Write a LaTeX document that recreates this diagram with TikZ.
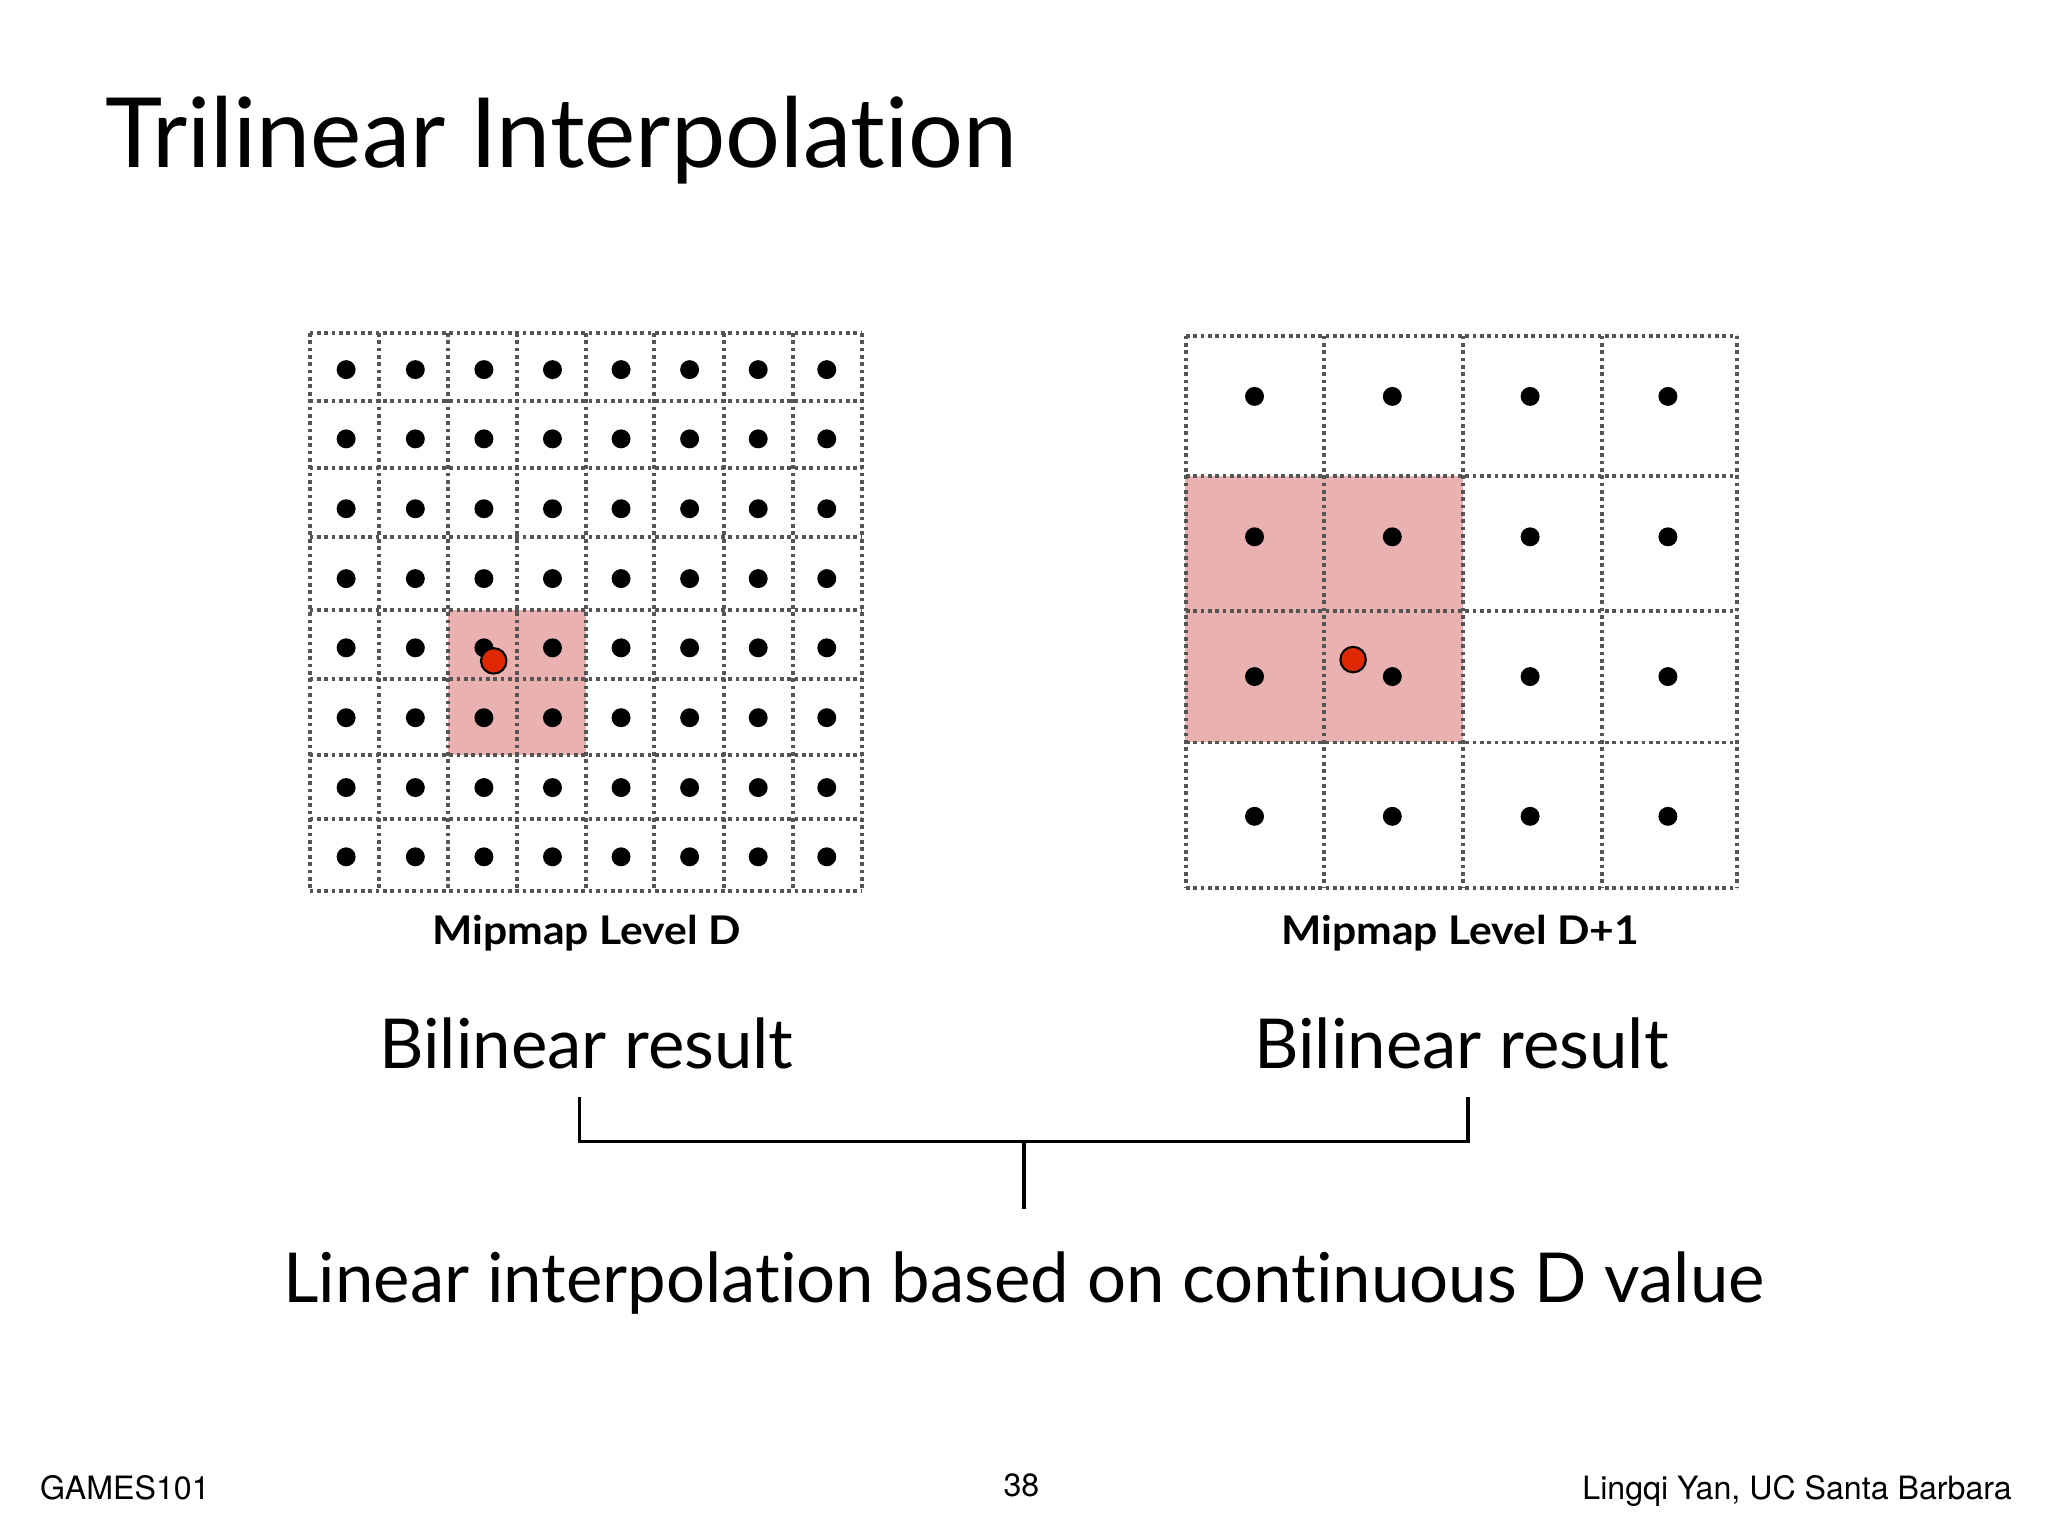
\documentclass[tikz,border=0pt]{standalone}
\usepackage{fontspec}
\setmainfont{Lato}[Ligatures={NoCommon}]
\newfontfamily\footfont{TeX Gyre Heros}
\definecolor{gridgray}{RGB}{85,85,85}
\definecolor{hlpink}{RGB}{233,177,175}
\definecolor{qred}{RGB}{224,40,0}
\begin{document}
\begin{tikzpicture}[x=0.01cm,y=-0.01cm,
  gridline/.style={draw=gridgray, line width=0.85pt, dash pattern=on 0.8pt off 0.8pt},
  hlbox/.style={fill=hlpink, draw=none},
  sample/.style={circle, fill=black, draw=none, inner sep=0pt, minimum size=0.145cm},
  query/.style={circle, fill=qred, draw=black, line width=0.45pt, inner sep=0pt, minimum size=0.195cm},
  bracketline/.style={draw=black, line width=0.75pt, line join=miter},
  titletext/.style={font=\fontsize{21.1}{25}\selectfont, inner sep=0pt},
  bigtext/.style={font=\fontsize{15}{18}\selectfont, inner sep=0pt},
  captext/.style={font=\bfseries\fontsize{8.6}{10}\selectfont, inner sep=0pt},
  foottext/.style={font=\footfont\fontsize{7}{8}\selectfont, inner sep=0pt}]
\useasboundingbox[fill=white] (0,0) rectangle (1568,1176);

% title
\node[titletext, anchor=base west] (title) at (80,128) {Trilinear Interpolation};

% highlights
\fill[hlbox] (343,467) rectangle (448.5,578);
\fill[hlbox] (907,364.5) rectangle (1120,568);

% left grid lines
\foreach \gx in {237,290,343,396,448.5,501,554,607,660}
  \draw[gridline] (\gx,255) -- (\gx,682);
\foreach \gy in {255,307,358,411,467,520,578,627,682}
  \draw[gridline] (237,\gy) -- (660,\gy);

% right grid lines
\foreach \gx in {908,1013.5,1120,1226.5,1330}
  \draw[gridline] (\gx,257) -- (\gx,680);
\foreach \gy in {257,364.5,468,568.5,680}
  \draw[gridline] (908,\gy) -- (1330,\gy);

% left samples
\foreach \yy [count=\r] in {283,336,389.5,443,496,549.5,603,656}{
  \foreach \xx [count=\c] in {265,318,370.5,423,475.5,528,580.5,633}{
    \node[sample] (L\r-\c) at (\xx,\yy) {};
  }
}
% right samples
\foreach \yy [count=\r] in {303.5,411,518,625}{
  \foreach \xx [count=\c] in {960.5,1066,1171.5,1277}{
    \node[sample] (R\r-\c) at (\xx,\yy) {};
  }
}

% query points
\node[query] (qL) at (378,506) {};
\node[query] (qR) at (1036,505) {};

% captions
\node[captext, anchor=base] (capL) at (449,723) {\scalebox{1.08}[1]{Mipmap Level D}};
\node[captext, anchor=base] (capR) at (1118,723) {\scalebox{1.08}[1]{Mipmap Level D+1}};

% bilinear results
\node[bigtext, anchor=base] (bilL) at (449,818) {Bilinear result};
\node[bigtext, anchor=base] (bilR) at (1119,818) {Bilinear result};

% bracket
\coordinate (bl) at (443.5,840);
\coordinate (br) at (1124,840);
\coordinate (bm) at (784,874);
\coordinate (stem) at (784,926);
\draw[bracketline] (bl) |- (bm) -| (br);
\draw[bracketline] (bm) -- (stem);

\node[bigtext, anchor=base] (lin) at (784,997) {Linear interpolation based on continuous D value};

% footer
\node[foottext, anchor=base west] (fl) at (30,1148) {GAMES101};
\node[foottext, anchor=base] (fc) at (782,1146) {38};
\node[foottext, anchor=base east] (fr) at (1541,1148) {Lingqi Yan, UC Santa Barbara};
\end{tikzpicture}
\end{document}
